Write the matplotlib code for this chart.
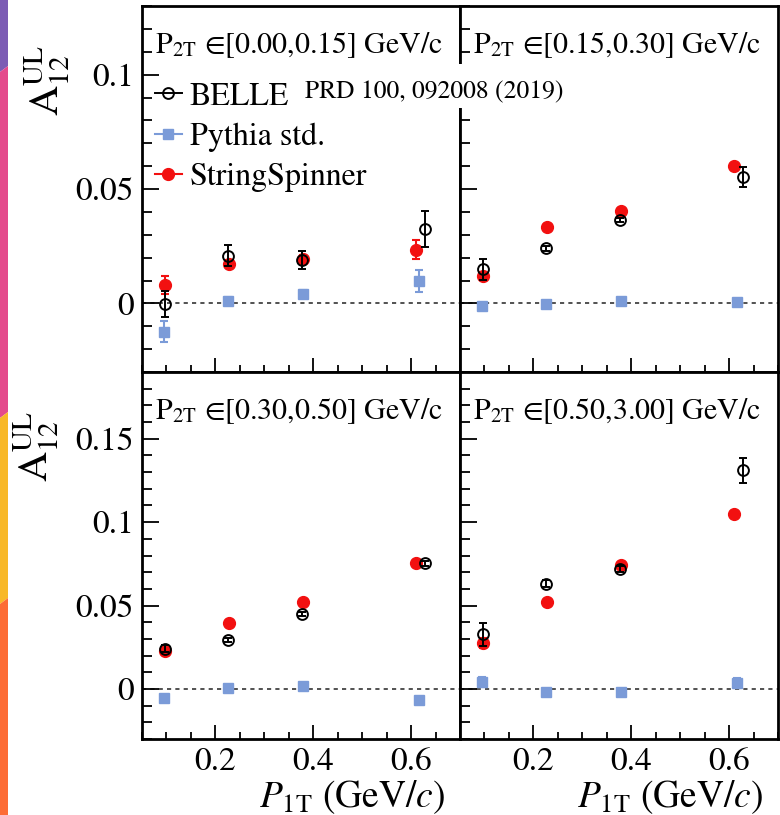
import matplotlib
matplotlib.use("Agg")
import matplotlib.pyplot as plt
from matplotlib.lines import Line2D
from matplotlib.patches import Polygon, Rectangle
from matplotlib.ticker import MultipleLocator

plt.rcParams['font.family'] = ['STIXGeneral', 'DejaVu Serif']
plt.rcParams['mathtext.fontset'] = 'stix'

# ---------------- data ----------------
bin_labels = ["[0.00,0.15]", "[0.15,0.30]", "[0.30,0.50]", "[0.50,3.00]"]

belle_x = [0.097, 0.225, 0.377, 0.629]
pythia_x = [0.095, 0.226, 0.379, 0.616]
ss_x = [0.097, 0.227, 0.379, 0.611]

belle_y = [
    [-0.0003, 0.0209, 0.0189, 0.0325],
    [0.0149, 0.0240, 0.0365, 0.0553],
    [0.0242, 0.0294, 0.0450, 0.0754],
    [0.0327, 0.0631, 0.0720, 0.1310],
]
belle_err = [
    [0.0055, 0.0045, 0.0040, 0.0078],
    [0.0047, 0.0010, 0.0010, 0.0043],
    [0.0020, 0.0010, 0.0010, 0.0015],
    [0.0070, 0.0020, 0.0020, 0.0076],
]
pythia_y = [
    [-0.0123, 0.0012, 0.0042, 0.0098],
    [-0.0010, -0.0003, 0.0009, 0.0004],
    [-0.0056, 0.0004, 0.0016, -0.0065],
    [0.0040, -0.0020, -0.0016, 0.0036],
]
pythia_err = [
    [0.0047, 0.0015, 0.0015, 0.0048],
    [0.0010, 0.0010, 0.0010, 0.0010],
    [0.0010, 0.0010, 0.0010, 0.0010],
    [0.0030, 0.0010, 0.0010, 0.0030],
]
ss_y = [
    [0.0079, 0.0173, 0.0195, 0.0235],
    [0.0120, 0.0336, 0.0404, 0.0599],
    [0.0228, 0.0397, 0.0520, 0.0758],
    [0.0278, 0.0520, 0.0744, 0.1046],
]
ss_err = [
    [0.0040, 0.0015, 0.0015, 0.0040],
    [0.0015, 0.0010, 0.0010, 0.0010],
    [0.0010, 0.0010, 0.0010, 0.0010],
    [0.0030, 0.0010, 0.0010, 0.0020],
]

PY_COLOR = '#7b9bd8'
SS_COLOR = '#f21010'

W, H = 780, 815
fig = plt.figure(figsize=(W / 100, H / 100), dpi=100)

# decorative slide strip on left edge
strip = [
    ('#7c5cb4', [(0, 0), (8, 0), (8, 66), (0, 72)]),
    ('#e44a8c', [(0, 72), (8, 66), (8, 412), (0, 418)]),
    ('#f8b827', [(0, 418), (8, 412), (8, 598), (0, 604)]),
    ('#fd6c35', [(0, 604), (8, 598), (8, 815), (0, 815)]),
]
for col, pts in strip:
    fig.patches.append(Polygon([(x / W, 1 - y / H) for x, y in pts], closed=True,
                               facecolor=col, edgecolor='none',
                               transform=fig.transFigure, figure=fig))

lefts = [142 / W, 460 / W]
width = 318 / W
bottoms = [(H - 372) / H, (H - 739) / H]
heights = [366 / H, 367 / H]

fmt = plt.FuncFormatter(lambda v, p: ('%g' % round(v, 3)))

axes = []
for r in range(2):
    for c in range(2):
        ax = fig.add_axes([lefts[c], bottoms[r], width, heights[r]])
        axes.append(ax)

for i, ax in enumerate(axes):
    r, c = divmod(i, 2)
    ax.axhline(0, color='#333333', lw=1.2, ls=(0, (2.5, 2.5)), zorder=1)
    ax.errorbar(pythia_x, pythia_y[i], yerr=pythia_err[i], fmt='s', ms=7.5,
                color=PY_COLOR, mec=PY_COLOR, ecolor=PY_COLOR, elinewidth=1.5,
                capsize=3, capthick=1.5, zorder=3)
    ax.errorbar(ss_x, ss_y[i], yerr=ss_err[i], fmt='o', ms=8.5,
                color=SS_COLOR, mec=SS_COLOR, ecolor=SS_COLOR, elinewidth=1.5,
                capsize=3, capthick=1.5, zorder=4)
    ax.errorbar(belle_x, belle_y[i], yerr=belle_err[i], fmt='o', ms=7.8,
                mfc='none', mec='black', mew=1.4, ecolor='black', elinewidth=1.4,
                capsize=3, capthick=1.4, zorder=5)
    ax.set_xlim(0.05, 0.70)
    if r == 0:
        ax.set_ylim(-0.03, 0.13)
    else:
        ax.set_ylim(-0.03, 0.19)
    ax.yaxis.set_major_locator(MultipleLocator(0.05))
    ax.yaxis.set_minor_locator(MultipleLocator(0.01))
    ax.xaxis.set_major_locator(MultipleLocator(0.2))
    ax.xaxis.set_minor_locator(MultipleLocator(0.05))
    ax.yaxis.set_major_formatter(fmt)
    ax.xaxis.set_major_formatter(fmt)
    ax.tick_params(which='both', direction='in', top=False, right=False,
                   labelsize=24, width=1.3, pad=6)
    ax.tick_params(axis='y', which='major', length=12)
    ax.tick_params(axis='y', which='minor', length=7)
    ax.tick_params(axis='x', which='major', length=10)
    ax.tick_params(axis='x', which='minor', length=5)
    for s in ax.spines.values():
        s.set_linewidth(2)
    if r == 0:
        ax.tick_params(axis='x', labelbottom=False)
    else:
        ax.set_xlabel(r'$P_{\mathrm{1T}}$ (GeV/$c$)', fontsize=27)
        ax.xaxis.set_label_coords(0.953, -0.158)
        ax.xaxis.label.set_ha('right')
        ax.xaxis.label.set_va('center')
    if c == 1:
        ax.tick_params(axis='y', labelleft=False)
    ax.text(0.04, 0.935, r'P$_{\mathrm{2T}}$ ∈' + bin_labels[i] + ' GeV/c',
            transform=ax.transAxes, fontsize=21.5, ha='left', va='top')

# y labels
fig.text(47 / W, 1 - 45 / H, r'A$^{\mathrm{UL}}_{12}$', rotation=90, fontsize=30,
         ha='center', va='top')
fig.text(36 / W, 1 - 411 / H, r'A$^{\mathrm{UL}}_{12}$', rotation=90, fontsize=30,
         ha='center', va='top')

# legend
handles = [
    Line2D([], [], color='black', marker='o', mfc='none', mec='black', ms=7.8, mew=1.4, lw=1.4),
    Line2D([], [], color=PY_COLOR, marker='s', ms=7.5, lw=1.5),
    Line2D([], [], color=SS_COLOR, marker='o', ms=8.5, lw=1.5),
]
leg = axes[0].legend(handles, ['BELLE', 'Pythia std.', 'StringSpinner'],
                     loc='upper left', bbox_to_anchor=(0.04, 0.792), frameon=False,
                     fontsize=23, handlelength=0.85, handletextpad=0.25,
                     labelspacing=0.34, borderpad=0, borderaxespad=0)
leg.set_zorder(10)

# white background behind the reference note (covers panel divider)
fig.patches.append(Rectangle((298 / W, 1 - 108 / H), 272 / W, 44 / H,
                             facecolor='white', edgecolor='none',
                             transform=fig.transFigure, figure=fig, zorder=10))
fig.text(305 / W, 1 - 92 / H, 'PRD 100, 092008 (2019)', fontsize=18.4,
         ha='left', va='center', zorder=11)

fig.savefig('out.png', dpi=100)
